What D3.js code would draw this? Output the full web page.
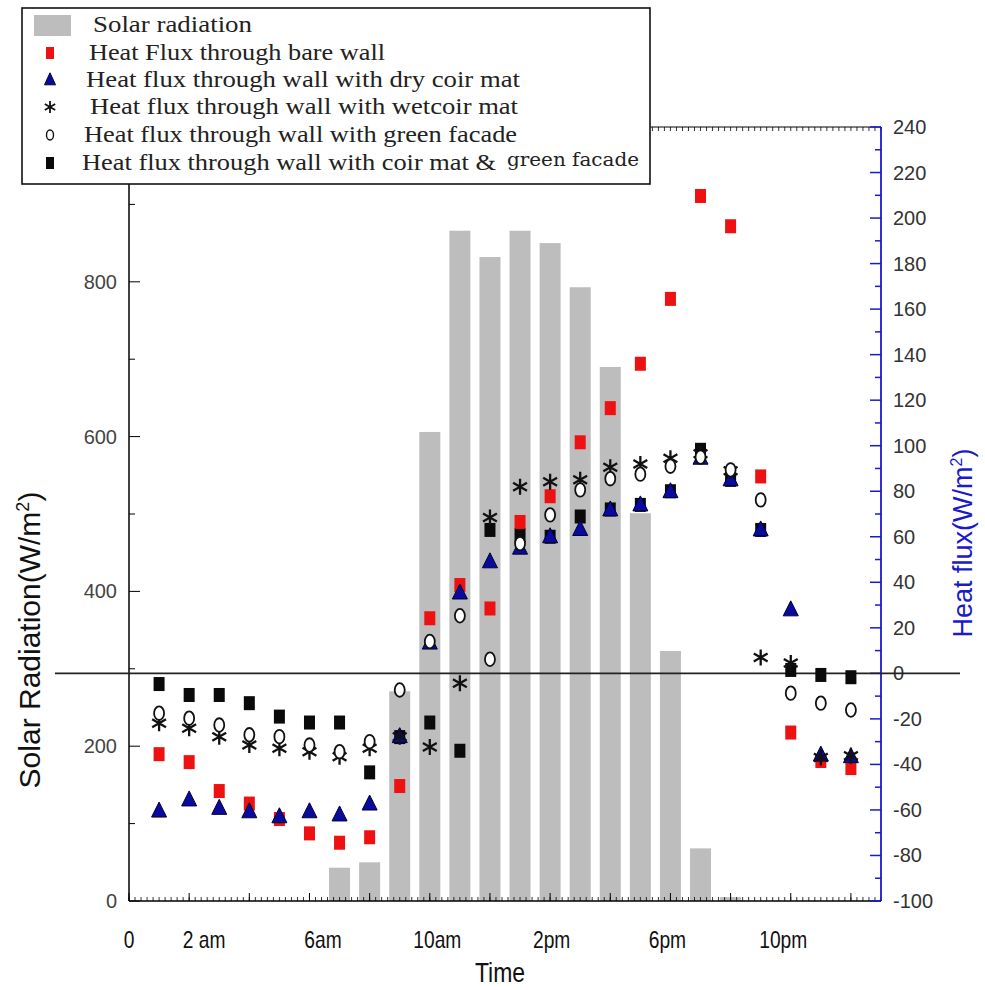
<!DOCTYPE html>
<html>
<head>
<meta charset="utf-8">
<script src="https://cdn.jsdelivr.net/npm/d3@7"></script>
<style>
  body { margin: 0; background: #fff; }
  svg { display: block; }
</style>
</head>
<body>
<div id="chart"></div>
<script>
"use strict";

// hours of the day (1 = 1am ... 24 = midnight)
const hours = d3.range(1, 25);

// solar radiation, W/m2 (left axis)
const solar = [0, 0, 0, 0, 0, 0, 43, 50, 271, 606, 866, 832, 866, 850, 793, 690, 501, 323, 68, 5, 0, 0, 0, 0];

// heat flux, W/m2 (right axis)
const bareWall = [-35.5, -39, -51.7, -57.2, -64, -70.3, -74.4, -72, -49.5, 24.2, 38.8, 28.5, 66.5, 77.8, 101.5, 116.5, 136, 164.5, 209.7, 196.4, 86.5, -26, -38.5, -41.6];
const dryCoir = [-60.5, -55.6, -59.3, -60.8, -63, -60.8, -62.2, -57.4, -27.8, 13.3, 35.3, 49, 55, 60, 63.2, 71.8, 74, 79.8, 94.5, 85, 63, 27.9, -35.9, -36.6];
const wetCoir = [-21.9, -24.1, -27.8, -31.5, -32.9, -34.4, -36.6, -32.9, -27.8, -32.4, -4.3, 68.5, 82, 84.2, 85, 90.5, 92, 94.5, 96.5, 89, 7, 4.6, -37, -36.2];
const greenFacade = [-17.5, -19.7, -22.7, -27, -27.8, -31.5, -34.4, -30, -7.3, 14, 25.3, 6.2, 57, 69.6, 80.6, 85.5, 87.5, 91, 95, 89.4, 76.2, -8.7, -13.1, -16.1];
const coirGreen = [-4.7, -9.5, -9.5, -13.1, -19, -21.6, -21.6, -43.5, -28, -21.6, -34, 63, 60.8, 60, 68.9, 72, 74, 80, 98.2, 85, 63, 1.5, -0.7, -1.7];

// axis ticks
const leftTicks = [0, 200, 400, 600, 800];
const rightTicks = d3.range(-100, 241, 20);
const xLabelHours = [0, 2.5, 6.45, 10.25, 14.05, 17.9, 21.75];
const xLabelText = ["0", "2 am", "6am", "10am", "2pm", "6pm", "10pm"];

const legendLabels = [
  "Solar radiation",
  "Heat Flux through bare wall",
  "Heat flux through wall with dry coir mat",
  "Heat flux through wall with wetcoir mat",
  "Heat flux through wall with green facade",
  "Heat flux through wall with coir mat & "
];

const W = 985, H = 990;
const plot = { left: 129, right: 881, top: 127, bottom: 901 };

const svg = d3.select("#chart").append("svg")
  .attr("width", W)
  .attr("height", H)
  .attr("viewBox", `0 0 ${W} ${H}`);

const x = d3.scaleLinear().domain([0, 25]).range([plot.left, plot.right]);
const yL = d3.scaleLinear().domain([0, 1000]).range([plot.bottom, plot.top]);
const yR = d3.scaleLinear().domain([-100, 240]).range([plot.bottom, plot.top]);

const axisFont = "Liberation Sans, Arial, sans-serif";

// bars
svg.append("g")
  .selectAll("rect")
  .data(hours.map((h, i) => ({ h, v: solar[i] })).filter(d => d.v > 0))
  .join("rect")
  .attr("x", d => x(d.h) - 10.5)
  .attr("width", 21)
  .attr("y", d => yL(d.v))
  .attr("height", d => yL(0) - yL(d.v))
  .attr("fill", "#bdbdbd");

// bottom axis
const xMinor = d3.range(0, 25.01, 0.2).map(v => +v.toFixed(1));
const xMajor = d3.range(0, 25.01, 2);
const gx = svg.append("g");
gx.append("line")
  .attr("x1", plot.left).attr("x2", plot.right)
  .attr("y1", plot.bottom).attr("y2", plot.bottom)
  .attr("stroke", "#000").attr("stroke-width", 1.5);
gx.selectAll(".minor").data(xMinor).join("line")
  .attr("x1", d => x(d)).attr("x2", d => x(d))
  .attr("y1", plot.bottom).attr("y2", plot.bottom - 4)
  .attr("stroke", "#000").attr("stroke-width", 0.8);
gx.selectAll(".major").data(xMajor).join("line")
  .attr("x1", d => x(d)).attr("x2", d => x(d))
  .attr("y1", plot.bottom).attr("y2", plot.bottom - 8)
  .attr("stroke", "#000").attr("stroke-width", 1);
// narrow-looking labels: squeeze a regular sans horizontally
gx.selectAll("text").data(xLabelHours).join("text")
  .attr("transform", d => `translate(${x(d)},${plot.bottom + 47}) scale(0.8,1)`)
  .attr("text-anchor", "middle")
  .style("font-family", axisFont)
  .style("font-size", "24px")
  .attr("fill", "#111")
  .text((d, i) => xLabelText[i]);

// top axis (mirror)
const gt = svg.append("g");
gt.append("line")
  .attr("x1", plot.left).attr("x2", plot.right)
  .attr("y1", plot.top).attr("y2", plot.top)
  .attr("stroke", "#000").attr("stroke-width", 1);
gt.selectAll(".minor").data(xMinor).join("line")
  .attr("x1", d => x(d)).attr("x2", d => x(d))
  .attr("y1", plot.top).attr("y2", plot.top + 4)
  .attr("stroke", "#000").attr("stroke-width", 0.8);

// left axis
const gl = svg.append("g");
gl.append("line")
  .attr("x1", plot.left).attr("x2", plot.left)
  .attr("y1", plot.top).attr("y2", plot.bottom)
  .attr("stroke", "#000").attr("stroke-width", 1.5);
gl.selectAll(".minor").data(d3.range(100, 1000, 200)).join("line")
  .attr("x1", plot.left).attr("x2", plot.left + 6)
  .attr("y1", d => yL(d)).attr("y2", d => yL(d))
  .attr("stroke", "#000");
gl.selectAll(".major").data(d3.range(0, 1001, 200)).join("line")
  .attr("x1", plot.left).attr("x2", plot.left + 11)
  .attr("y1", d => yL(d)).attr("y2", d => yL(d))
  .attr("stroke", "#000");
gl.selectAll("text").data(leftTicks).join("text")
  .attr("x", plot.left - 12)
  .attr("y", d => yL(d) + 7)
  .attr("text-anchor", "end")
  .style("font-family", axisFont)
  .style("font-size", "20px")
  .attr("fill", "#444")
  .text(d => d);

// right axis (blue)
const blue = "#1a1acc";
const gr = svg.append("g");
gr.append("line")
  .attr("x1", plot.right).attr("x2", plot.right)
  .attr("y1", plot.top).attr("y2", plot.bottom)
  .attr("stroke", blue).attr("stroke-width", 1.8);
gr.selectAll(".minor").data(d3.range(-90, 240, 20)).join("line")
  .attr("x1", plot.right).attr("x2", plot.right - 6)
  .attr("y1", d => yR(d)).attr("y2", d => yR(d))
  .attr("stroke", blue).attr("stroke-width", 1.5);
gr.selectAll(".major").data(rightTicks).join("line")
  .attr("x1", plot.right).attr("x2", plot.right - 11)
  .attr("y1", d => yR(d)).attr("y2", d => yR(d))
  .attr("stroke", blue).attr("stroke-width", 1.5);
gr.selectAll("text").data(rightTicks).join("text")
  .attr("x", plot.right + 12)
  .attr("y", d => yR(d) + 7)
  .style("font-family", axisFont)
  .style("font-size", "20px")
  .attr("fill", "#333")
  .text(d => d);

// zero line of the heat flux
svg.append("line")
  .attr("x1", 55).attr("x2", 960)
  .attr("y1", yR(0)).attr("y2", yR(0))
  .attr("stroke", "#222").attr("stroke-width", 1.6);

// axis titles
svg.append("text")
  .attr("transform", `translate(40, 640) rotate(-90)`)
  .attr("text-anchor", "middle")
  .style("font-family", axisFont)
  .style("font-size", "30px")
  .attr("fill", "#111")
  .text("Solar Radiation(W/m")
  .append("tspan").attr("dy", -11).style("font-size", "18px").text("2")
  .select(function () { return this.parentNode; })
  .append("tspan").attr("dy", 11).text(")");

svg.append("text")
  .attr("transform", `translate(972, 543) rotate(-90)`)
  .attr("text-anchor", "middle")
  .style("font-family", axisFont)
  .style("font-size", "27px")
  .attr("fill", "#1a1acc")
  .text("Heat flux(W/m")
  .append("tspan").attr("dy", -10).style("font-size", "16px").text("2")
  .select(function () { return this.parentNode; })
  .append("tspan").attr("dy", 10).text(")");

svg.append("text")
  .attr("transform", "translate(500,982) scale(0.82,1)")
  .attr("text-anchor", "middle")
  .style("font-family", axisFont)
  .style("font-size", "28px")
  .attr("fill", "#111")
  .text("Time");

// markers
const starPath = r => {
  const a = r * Math.cos(Math.PI / 6), b = r * Math.sin(Math.PI / 6);
  return `M0,${-r}L0,${r}M${-a},${-b}L${a},${b}M${-a},${b}L${a},${-b}`;
};
const triPath = (w, h) => `M0,${-h * 0.6}L${w / 2},${h * 0.4}L${-w / 2},${h * 0.4}Z`;

const pts = arr => hours.map((h, i) => ({ h, v: arr[i] }));

const drawSquares = (arr, color) => svg.append("g")
  .selectAll("rect").data(pts(arr)).join("rect")
  .attr("x", d => x(d.h) - 5.5).attr("y", d => yR(d.v) - 7)
  .attr("width", 11).attr("height", 14)
  .attr("fill", color);

drawSquares(coirGreen, "#0a0a0a");
drawSquares(bareWall, "#ee1111");

svg.append("g")
  .selectAll("path").data(pts(dryCoir)).join("path")
  .attr("d", triPath(15, 15))
  .attr("transform", d => `translate(${x(d.h)},${yR(d.v)})`)
  .attr("fill", "#0a0a9e")
  .attr("stroke", "#000033").attr("stroke-width", 1);

svg.append("g")
  .selectAll("path").data(pts(wetCoir)).join("path")
  .attr("d", starPath(8))
  .attr("transform", d => `translate(${x(d.h)},${yR(d.v)})`)
  .attr("fill", "none")
  .attr("stroke", "#111").attr("stroke-width", 2.3);

svg.append("g")
  .selectAll("ellipse").data(pts(greenFacade)).join("ellipse")
  .attr("cx", d => x(d.h)).attr("cy", d => yR(d.v))
  .attr("rx", 5).attr("ry", 6.8)
  .attr("fill", "#fff")
  .attr("stroke", "#111").attr("stroke-width", 1.8);

// legend
const lg = svg.append("g");
lg.append("rect")
  .attr("x", 22).attr("y", 8)
  .attr("width", 628).attr("height", 176)
  .attr("fill", "#fff")
  .attr("stroke", "#111").attr("stroke-width", 1.6);

const rowY = [25, 53, 80, 107, 135, 163];
const textX = [93, 89, 86, 90, 84, 82];
const textW = [159, 296, 434, 428, 433, 414];

lg.append("rect").attr("x", 34).attr("y", rowY[0] - 10).attr("width", 37).attr("height", 21).attr("fill", "#bdbdbd");
lg.append("rect").attr("x", 46).attr("y", rowY[1] - 6).attr("width", 8).attr("height", 12).attr("fill", "#ee1111");
lg.append("path").attr("d", triPath(11, 12)).attr("transform", `translate(50,${rowY[2]})`)
  .attr("fill", "#0a0a9e").attr("stroke", "#000033");
lg.append("path").attr("d", starPath(6)).attr("transform", `translate(50,${rowY[3]})`)
  .attr("fill", "none").attr("stroke", "#111").attr("stroke-width", 1.8);
lg.append("ellipse").attr("cx", 50).attr("cy", rowY[4]).attr("rx", 3.5).attr("ry", 5)
  .attr("fill", "#fff").attr("stroke", "#111").attr("stroke-width", 1.4);
lg.append("rect").attr("x", 46).attr("y", rowY[5] - 6).attr("width", 8).attr("height", 12).attr("fill", "#0a0a0a");

lg.selectAll(".lt").data(legendLabels).join("text")
  .attr("x", (d, i) => textX[i])
  .attr("y", (d, i) => rowY[i] + 7)
  .attr("textLength", (d, i) => textW[i])
  .attr("lengthAdjust", "spacingAndGlyphs")
  .style("font-family", "Liberation Serif, DejaVu Serif, serif")
  .style("font-size", "23px")
  .attr("fill", "#222")
  .text(d => d);

lg.append("text")
  .attr("x", 507)
  .attr("y", rowY[5] + 3)
  .attr("textLength", 132)
  .attr("lengthAdjust", "spacingAndGlyphs")
  .style("font-family", "DejaVu Serif, serif")
  .style("font-size", "18px")
  .attr("fill", "#222")
  .text("green facade");
</script>
</body>
</html>
